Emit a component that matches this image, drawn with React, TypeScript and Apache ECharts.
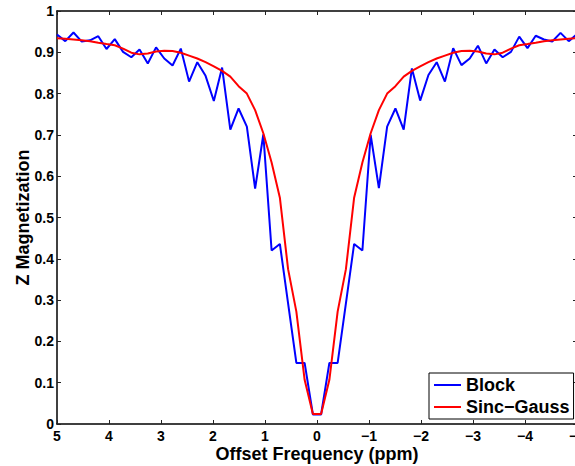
import React, { useEffect, useRef } from "react";
import * as echarts from "echarts";

const freq = [
  5, 4.841, 4.683, 4.524, 4.365, 4.206, 4.048, 3.889, 3.73, 3.571, 3.413, 3.254, 3.095, 2.937, 2.778, 2.619,
  2.46, 2.302, 2.143, 1.984, 1.825, 1.667, 1.508, 1.349, 1.19, 1.032, 0.873, 0.714, 0.556, 0.397, 0.238, 0.079,
  -0.079, -0.238, -0.397, -0.556, -0.714, -0.873, -1.032, -1.19, -1.349, -1.508, -1.667, -1.825, -1.984, -2.143, -2.302, -2.46,
  -2.619, -2.778, -2.937, -3.095, -3.254, -3.413, -3.571, -3.73, -3.889, -4.048, -4.206, -4.365, -4.524, -4.683, -4.841, -5,
];

const block = [
  0.943, 0.927, 0.948, 0.926, 0.929, 0.939, 0.908, 0.932, 0.901, 0.888, 0.907, 0.873, 0.912, 0.885, 0.868, 0.909,
  0.829, 0.876, 0.843, 0.782, 0.863, 0.713, 0.764, 0.72, 0.57, 0.701, 0.42, 0.436, 0.292, 0.148, 0.148, 0.023,
  0.023, 0.148, 0.148, 0.292, 0.436, 0.42, 0.7, 0.571, 0.72, 0.764, 0.713, 0.861, 0.783, 0.845, 0.876, 0.829,
  0.91, 0.869, 0.885, 0.916, 0.873, 0.907, 0.888, 0.901, 0.938, 0.91, 0.94, 0.931, 0.926, 0.947, 0.927, 0.944,
];

const sincGauss = [
  0.934, 0.933, 0.931, 0.929, 0.927, 0.923, 0.92, 0.917, 0.909, 0.899, 0.895, 0.897, 0.902, 0.904, 0.903, 0.899,
  0.892, 0.885, 0.876, 0.866, 0.855, 0.841, 0.818, 0.8, 0.76, 0.704, 0.633, 0.548, 0.375, 0.272, 0.107, 0.024,
  0.024, 0.107, 0.272, 0.375, 0.548, 0.633, 0.704, 0.76, 0.8, 0.818, 0.841, 0.855, 0.866, 0.876, 0.885, 0.892,
  0.899, 0.903, 0.904, 0.902, 0.897, 0.895, 0.899, 0.909, 0.917, 0.92, 0.923, 0.927, 0.929, 0.931, 0.933, 0.934,
];

const seriesNames = ["Block", "Sinc\u2212Gauss"];
const xTitle = "Offset Frequency (ppm)";
const yTitle = "Z Magnetization";

const FONT = "'Liberation Sans', Arial, Helvetica, sans-serif";

export default function App() {
  const ref = useRef<HTMLDivElement>(null);
  useEffect(() => {
    if (!ref.current) return;
    const chart = echarts.init(ref.current, undefined, { renderer: "svg" });
    const labelStyle = { fontFamily: FONT, fontWeight: "bold" as const, fontSize: 14, lineHeight: 14, color: "#000" };
    const fmtX = (v: number) => (v < 0 ? "\u2212" + Math.abs(v) : String(v));
    const fmtY = (v: number) => String(Math.round(v * 10) / 10);
    const axisLine = { show: true, onZero: false, lineStyle: { color: "#000", width: 1.5 } };
    const tick = { show: true, inside: true, length: 4, lineStyle: { color: "#222", width: 1 } };
    chart.setOption({
      animation: false,
      backgroundColor: "#fff",
      grid: { left: 57, right: -2, top: 11, bottom: 42, containLabel: false, outerBoundsMode: "none" },
      legend: {
        data: seriesNames,
        orient: "vertical",
        left: 429,
        top: 373,
        padding: [3, 4, 3, 5],
        itemGap: 4,
        itemWidth: 27,
        itemHeight: 2,
        icon: "rect",
        borderColor: "#000",
        borderWidth: 1,
        backgroundColor: "#fff",
        textStyle: { fontFamily: FONT, fontWeight: "bold", fontSize: 18, color: "#000" },
      },
      xAxis: [
        {
          type: "value",
          min: -5,
          max: 5,
          interval: 1,
          inverse: true,
          position: "bottom",
          name: xTitle,
          nameLocation: "middle",
          nameGap: 21,
          nameMoveOverlap: false,
          nameTextStyle: { fontFamily: FONT, fontWeight: "bold", fontSize: 18, lineHeight: 18, color: "#000" },
          axisLine,
          axisTick: tick,
          splitLine: { show: false },
          axisLabel: { ...labelStyle, margin: 5, formatter: fmtX, showMinLabel: true, showMaxLabel: true },
        },
        {
          type: "value",
          min: -5,
          max: 5,
          interval: 1,
          inverse: true,
          position: "top",
          axisLine,
          axisTick: tick,
          splitLine: { show: false },
          axisLabel: { show: false },
        },
      ],
      yAxis: [
        {
          type: "value",
          min: 0,
          max: 1,
          interval: 0.1,
          position: "left",
          name: yTitle,
          nameLocation: "middle",
          nameGap: 25,
          nameMoveOverlap: false,
          nameTextStyle: { fontFamily: FONT, fontWeight: "bold", fontSize: 18, color: "#000" },
          axisLine,
          axisTick: tick,
          splitLine: { show: false },
          axisLabel: { ...labelStyle, margin: 3, formatter: fmtY },
        },
        {
          type: "value",
          min: 0,
          max: 1,
          interval: 0.1,
          position: "right",
          axisLine,
          axisTick: tick,
          splitLine: { show: false },
          axisLabel: { show: false },
        },
      ],
      series: [
        {
          name: seriesNames[0],
          type: "line",
          xAxisIndex: 0,
          yAxisIndex: 0,
          showSymbol: false,
          symbol: "none",
          color: "#0000ff",
          lineStyle: { color: "#0000ff", width: 2 },
          data: freq.map((f, i) => [f, block[i]]),
        },
        {
          name: seriesNames[1],
          type: "line",
          xAxisIndex: 0,
          yAxisIndex: 0,
          showSymbol: false,
          symbol: "none",
          color: "#ff0000",
          lineStyle: { color: "#ff0000", width: 2 },
          data: freq.map((f, i) => [f, sincGauss[i]]),
        },
      ],
    });
    return () => chart.dispose();
  }, []);
  return (
    <div
      ref={ref}
      style={{ position: "fixed", left: 0, top: 0, width: 575, height: 466, background: "#fff" }}
    />
  );
}
